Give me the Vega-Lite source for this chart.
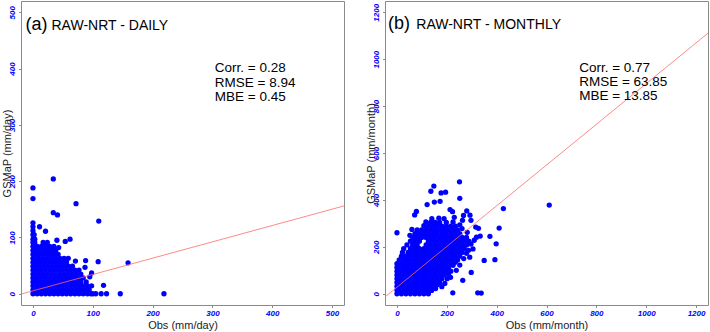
{
  "$schema": "https://vega.github.io/schema/vega-lite/v6.json",
  "padding": {"left": 0, "top": 0, "right": 0, "bottom": 0},
  "background": "white",
  "bounds": "flush",
  "spacing": 41,
  "config": {
    "view": {"stroke": "#8a8a8a", "strokeWidth": 1},
    "font": "Liberation Sans",
    "axis": {
      "grid": false,
      "domain": false,
      "ticks": true,
      "tickSize": 2.5,
      "tickColor": "#8a8a8a",
      "labelColor": "#0000FF",
      "labelFont": "Liberation Sans",
      "labelFontStyle": "italic",
      "labelFontWeight": "bold",
      "labelFontSize": 8,
      "labelPadding": 2,
      "labelFlush": false,
      "labelOverlap": false,
      "format": "d",
      "titleFont": "Liberation Sans",
      "titleFontWeight": "normal",
      "titleFontSize": 11,
      "titleColor": "#222222"
    },
    "axisX": {"titlePadding": 2},
    "axisY": {"labelAngle": 270, "labelAlign": "center", "labelBaseline": "bottom", "titlePadding": -4}
  },
  "datasets": {
    "daily": [
      {"x":0,"y":0},{"x":7,"y":0},{"x":14,"y":0},{"x":21,"y":0},{"x":28,"y":0},{"x":35,"y":0},{"x":42,"y":0},{"x":49,"y":0},{"x":56,"y":0},{"x":63,"y":0},{"x":70,"y":0},{"x":77,"y":0},{"x":84,"y":0},{"x":91,"y":0},{"x":97,"y":0},{"x":100,"y":0},{"x":105,"y":0},{"x":114,"y":0},{"x":123,"y":0},{"x":146,"y":0},{"x":219,"y":0},
      {"x":0,"y":7},{"x":3,"y":7},{"x":10,"y":7},{"x":17,"y":7},{"x":24,"y":7},{"x":31,"y":7},{"x":38,"y":7},{"x":45,"y":7},{"x":52,"y":7},{"x":59,"y":7},{"x":66,"y":7},{"x":73,"y":7},{"x":80,"y":7},{"x":87,"y":7},{"x":94,"y":7},
      {"x":0,"y":14},{"x":7,"y":14},{"x":14,"y":14},{"x":21,"y":14},{"x":28,"y":14},{"x":35,"y":14},{"x":42,"y":14},{"x":49,"y":14},{"x":56,"y":14},{"x":63,"y":14},{"x":70,"y":14},{"x":77,"y":14},{"x":84,"y":14},{"x":91,"y":14},{"x":98,"y":14},{"x":118,"y":15},
      {"x":0,"y":21},{"x":3,"y":21},{"x":10,"y":21},{"x":17,"y":21},{"x":24,"y":21},{"x":31,"y":21},{"x":38,"y":21},{"x":45,"y":21},{"x":52,"y":21},{"x":59,"y":21},{"x":66,"y":21},{"x":73,"y":21},{"x":80,"y":21},{"x":89,"y":21},
      {"x":0,"y":28},{"x":7,"y":28},{"x":14,"y":28},{"x":21,"y":28},{"x":28,"y":28},{"x":35,"y":28},{"x":42,"y":28},{"x":49,"y":28},{"x":56,"y":28},{"x":63,"y":28},{"x":70,"y":28},{"x":77,"y":28},{"x":84,"y":28},{"x":95,"y":30},
      {"x":0,"y":35},{"x":3,"y":35},{"x":10,"y":35},{"x":17,"y":35},{"x":24,"y":35},{"x":31,"y":35},{"x":38,"y":35},{"x":45,"y":35},{"x":52,"y":35},{"x":59,"y":35},{"x":66,"y":35},{"x":73,"y":35},{"x":80,"y":35},{"x":98,"y":37},
      {"x":0,"y":42},{"x":7,"y":42},{"x":14,"y":42},{"x":21,"y":42},{"x":28,"y":42},{"x":35,"y":42},{"x":42,"y":42},{"x":49,"y":42},{"x":56,"y":42},{"x":63,"y":42},{"x":70,"y":42},{"x":77,"y":42},
      {"x":0,"y":49},{"x":3,"y":49},{"x":10,"y":49},{"x":17,"y":49},{"x":24,"y":49},{"x":31,"y":49},{"x":38,"y":49},{"x":45,"y":49},{"x":52,"y":49},{"x":59,"y":49},{"x":66,"y":49},{"x":87,"y":47},
      {"x":0,"y":56},{"x":7,"y":56},{"x":14,"y":56},{"x":21,"y":56},{"x":28,"y":56},{"x":35,"y":56},{"x":42,"y":56},{"x":49,"y":56},{"x":56,"y":56},{"x":109,"y":57},{"x":71,"y":58},{"x":88,"y":59},
      {"x":0,"y":63},{"x":3,"y":63},{"x":10,"y":63},{"x":17,"y":63},{"x":24,"y":63},{"x":31,"y":63},{"x":38,"y":63},{"x":45,"y":63},{"x":52,"y":63},{"x":59,"y":63},
      {"x":0,"y":70},{"x":7,"y":70},{"x":14,"y":70},{"x":21,"y":70},{"x":28,"y":70},{"x":35,"y":70},{"x":42,"y":70},
      {"x":0,"y":77},{"x":3,"y":77},{"x":10,"y":77},{"x":17,"y":77},{"x":24,"y":77},{"x":31,"y":77},{"x":38,"y":77},
      {"x":0,"y":84},{"x":7,"y":84},{"x":14,"y":84},{"x":21,"y":84},{"x":28,"y":84},{"x":35,"y":84},{"x":43,"y":82},
      {"x":0,"y":91},{"x":3,"y":91},{"x":17,"y":91},{"x":24,"y":91},{"x":40,"y":95},{"x":54,"y":93},
      {"x":0,"y":97},{"x":3,"y":97},{"x":62,"y":97},
      {"x":0,"y":105},{"x":2,"y":105},{"x":0,"y":112},{"x":21,"y":111},{"x":0,"y":119},{"x":11,"y":119},{"x":0,"y":126},
      {"x":0,"y":169},{"x":0,"y":188},{"x":34,"y":204},{"x":72,"y":160},{"x":34,"y":144},{"x":41,"y":140},{"x":110,"y":129},{"x":159,"y":55}
    ],
    "monthly": [
      {"x":0,"y":0},{"x":18,"y":0},{"x":36,"y":0},{"x":54,"y":0},{"x":72,"y":0},{"x":90,"y":0},{"x":108,"y":0},{"x":126,"y":0},{"x":139,"y":14},
      {"x":0,"y":16},{"x":9,"y":16},{"x":27,"y":16},{"x":45,"y":16},{"x":63,"y":16},{"x":81,"y":16},{"x":99,"y":16},{"x":117,"y":16},{"x":135,"y":16},{"x":155,"y":22},
      {"x":0,"y":32},{"x":18,"y":32},{"x":36,"y":32},{"x":54,"y":32},{"x":72,"y":32},{"x":90,"y":32},{"x":108,"y":32},{"x":126,"y":32},{"x":144,"y":32},{"x":162,"y":38},{"x":180,"y":30},
      {"x":0,"y":48},{"x":9,"y":48},{"x":27,"y":48},{"x":45,"y":48},{"x":63,"y":48},{"x":81,"y":48},{"x":99,"y":48},{"x":117,"y":48},{"x":135,"y":48},{"x":153,"y":48},{"x":171,"y":48},{"x":192,"y":44},
      {"x":0,"y":64},{"x":18,"y":64},{"x":36,"y":64},{"x":54,"y":64},{"x":72,"y":64},{"x":90,"y":64},{"x":108,"y":64},{"x":126,"y":64},{"x":144,"y":64},{"x":162,"y":64},{"x":180,"y":64},{"x":201,"y":64},{"x":215,"y":70},
      {"x":0,"y":80},{"x":9,"y":80},{"x":27,"y":80},{"x":45,"y":80},{"x":63,"y":80},{"x":81,"y":80},{"x":99,"y":80},{"x":117,"y":80},{"x":135,"y":80},{"x":153,"y":80},{"x":171,"y":80},{"x":189,"y":80},{"x":207,"y":84},
      {"x":0,"y":96},{"x":18,"y":96},{"x":36,"y":96},{"x":54,"y":96},{"x":72,"y":96},{"x":90,"y":96},{"x":108,"y":96},{"x":126,"y":96},{"x":144,"y":96},{"x":162,"y":96},{"x":180,"y":96},{"x":198,"y":96},{"x":216,"y":96},{"x":238,"y":100},
      {"x":0,"y":112},{"x":9,"y":112},{"x":27,"y":112},{"x":45,"y":112},{"x":63,"y":112},{"x":81,"y":112},{"x":99,"y":112},{"x":117,"y":112},{"x":135,"y":112},{"x":153,"y":112},{"x":171,"y":112},{"x":189,"y":112},{"x":207,"y":112},{"x":225,"y":121},
      {"x":0,"y":128},{"x":18,"y":128},{"x":36,"y":128},{"x":54,"y":128},{"x":72,"y":128},{"x":90,"y":128},{"x":108,"y":128},{"x":126,"y":128},{"x":144,"y":128},{"x":162,"y":128},{"x":180,"y":128},{"x":198,"y":128},{"x":216,"y":128},{"x":234,"y":134},{"x":252,"y":122},
      {"x":9,"y":144},{"x":27,"y":144},{"x":45,"y":144},{"x":63,"y":144},{"x":81,"y":144},{"x":99,"y":144},{"x":117,"y":144},{"x":135,"y":144},{"x":153,"y":144},{"x":171,"y":144},{"x":189,"y":144},{"x":207,"y":144},{"x":225,"y":144},{"x":243,"y":144},{"x":268,"y":150},
      {"x":18,"y":160},{"x":36,"y":160},{"x":54,"y":160},{"x":72,"y":160},{"x":90,"y":160},{"x":108,"y":160},{"x":126,"y":160},{"x":144,"y":160},{"x":162,"y":160},{"x":180,"y":160},{"x":198,"y":160},{"x":216,"y":160},{"x":234,"y":160},{"x":252,"y":160},{"x":292,"y":156},
      {"x":22,"y":176},{"x":45,"y":176},{"x":63,"y":176},{"x":81,"y":176},{"x":99,"y":176},{"x":117,"y":176},{"x":135,"y":176},{"x":153,"y":176},{"x":171,"y":176},{"x":189,"y":176},{"x":207,"y":176},{"x":225,"y":176},{"x":243,"y":176},{"x":261,"y":176},{"x":279,"y":172},
      {"x":27,"y":192},{"x":54,"y":192},{"x":72,"y":192},{"x":90,"y":192},{"x":108,"y":192},{"x":126,"y":192},{"x":144,"y":192},{"x":162,"y":192},{"x":180,"y":192},{"x":198,"y":192},{"x":216,"y":192},{"x":234,"y":192},{"x":252,"y":192},{"x":270,"y":192},{"x":305,"y":191},
      {"x":40,"y":208},{"x":63,"y":208},{"x":81,"y":208},{"x":117,"y":208},{"x":135,"y":208},{"x":153,"y":208},{"x":171,"y":208},{"x":189,"y":208},{"x":207,"y":208},{"x":225,"y":208},{"x":243,"y":208},{"x":261,"y":208},{"x":279,"y":208},{"x":297,"y":212},
      {"x":54,"y":224},{"x":72,"y":224},{"x":90,"y":224},{"x":126,"y":224},{"x":144,"y":224},{"x":162,"y":224},{"x":180,"y":224},{"x":198,"y":224},{"x":216,"y":224},{"x":234,"y":224},{"x":252,"y":224},{"x":270,"y":224},{"x":288,"y":224},{"x":310,"y":228},
      {"x":63,"y":240},{"x":81,"y":240},{"x":99,"y":240},{"x":117,"y":240},{"x":135,"y":240},{"x":153,"y":240},{"x":171,"y":240},{"x":189,"y":240},{"x":207,"y":240},{"x":225,"y":240},{"x":243,"y":240},{"x":261,"y":240},{"x":279,"y":240},{"x":319,"y":241},
      {"x":52,"y":249},{"x":72,"y":256},{"x":90,"y":256},{"x":108,"y":256},{"x":126,"y":256},{"x":144,"y":256},{"x":162,"y":256},{"x":180,"y":256},{"x":198,"y":256},{"x":216,"y":256},{"x":234,"y":256},{"x":252,"y":256},{"x":282,"y":262},
      {"x":60,"y":274},{"x":81,"y":272},{"x":99,"y":272},{"x":117,"y":272},{"x":135,"y":272},{"x":153,"y":272},{"x":171,"y":272},{"x":189,"y":272},{"x":207,"y":272},{"x":225,"y":272},{"x":243,"y":272},{"x":261,"y":278},
      {"x":108,"y":290},{"x":126,"y":288},{"x":144,"y":288},{"x":162,"y":288},{"x":180,"y":288},{"x":198,"y":288},{"x":216,"y":288},{"x":234,"y":288},{"x":252,"y":294},
      {"x":116,"y":306},{"x":135,"y":304},{"x":153,"y":304},{"x":171,"y":304},{"x":198,"y":304},{"x":225,"y":306},
      {"x":140,"y":320},{"x":168,"y":322},{"x":189,"y":320},{"x":230,"y":326},
      {"x":0,"y":260},{"x":78,"y":351},{"x":71,"y":336},{"x":213,"y":359},{"x":223,"y":350},{"x":280,"y":353},{"x":267,"y":334},{"x":293,"y":335},{"x":263,"y":313},{"x":297,"y":313},
      {"x":121,"y":380},{"x":150,"y":391},{"x":173,"y":394},{"x":136,"y":437},{"x":148,"y":459},{"x":177,"y":430},{"x":195,"y":433},{"x":252,"y":407},{"x":251,"y":477},
      {"x":427,"y":363},{"x":611,"y":378},{"x":410,"y":280},{"x":398,"y":213},{"x":393,"y":145},{"x":350,"y":142},{"x":373,"y":245},{"x":334,"y":246},{"x":316,"y":284},{"x":327,"y":279},
      {"x":298,"y":91},{"x":264,"y":57},{"x":224,"y":4},{"x":324,"y":4},{"x":338,"y":3},{"x":287,"y":185}
    ]
  },
  "hconcat": [
    {
      "width": 323,
      "height": 304,
      "layer": [
        {
          "data": {"name": "daily"},
          "mark": {"type": "circle", "size": 28, "opacity": 1, "color": "#0000FF"},
          "encoding": {
            "x": {"field": "x", "type": "quantitative", "scale": {"domain": [-20, 520], "nice": false, "zero": false}, "axis": {"values": [0, 100, 200, 300, 400, 500], "title": "Obs (mm/day)"}},
            "y": {"field": "y", "type": "quantitative", "scale": {"domain": [-20, 520], "nice": false, "zero": false}, "axis": {"values": [0, 100, 200, 300, 400, 500], "title": "GSMaP (mm/day)"}}
          }
        },
        {
          "data": {"values": [{"x": -20, "y": -0.6, "x2": 520, "y2": 156}]},
          "mark": {"type": "rule", "color": "#ff6b6b", "strokeWidth": 0.8, "clip": true},
          "encoding": {
            "x": {"field": "x", "type": "quantitative", "title": "Obs (mm/day)"},
            "y": {"field": "y", "type": "quantitative", "title": "GSMaP (mm/day)"},
            "x2": {"field": "x2"},
            "y2": {"field": "y2"}
          }
        },
        {
          "data": {"values": [{"x": -12.3, "y": 469, "t": "(a)"}]},
          "mark": {"type": "text", "align": "left", "baseline": "alphabetic", "fontSize": 18, "color": "#000000"},
          "encoding": {
            "x": {"field": "x", "type": "quantitative", "title": "Obs (mm/day)"},
            "y": {"field": "y", "type": "quantitative", "title": "GSMaP (mm/day)"},
            "text": {"field": "t"}
          }
        },
        {
          "data": {"values": [{"x": 31, "y": 469, "t": "RAW-NRT - DAILY"}]},
          "mark": {"type": "text", "align": "left", "baseline": "alphabetic", "fontSize": 14, "color": "#000000"},
          "encoding": {
            "x": {"field": "x", "type": "quantitative", "title": "Obs (mm/day)"},
            "y": {"field": "y", "type": "quantitative", "title": "GSMaP (mm/day)"},
            "text": {"field": "t"}
          }
        },
        {
          "data": {"values": [{"x": 304, "y": 393, "t": "Corr. = 0.28"}, {"x": 304, "y": 368, "t": "RMSE = 8.94"}, {"x": 304, "y": 343, "t": "MBE = 0.45"}]},
          "mark": {"type": "text", "align": "left", "baseline": "alphabetic", "fontSize": 13.5, "color": "#000000"},
          "encoding": {
            "x": {"field": "x", "type": "quantitative", "title": "Obs (mm/day)"},
            "y": {"field": "y", "type": "quantitative", "title": "GSMaP (mm/day)"},
            "text": {"field": "t"}
          }
        }
      ]
    },
    {
      "width": 323,
      "height": 304,
      "layer": [
        {
          "data": {"name": "monthly"},
          "mark": {"type": "circle", "size": 28, "opacity": 1, "color": "#0000FF"},
          "encoding": {
            "x": {"field": "x", "type": "quantitative", "scale": {"domain": [-48, 1248], "nice": false, "zero": false}, "axis": {"values": [0, 200, 400, 600, 800, 1000, 1200], "title": "Obs (mm/month)"}},
            "y": {"field": "y", "type": "quantitative", "scale": {"domain": [-48, 1248], "nice": false, "zero": false}, "axis": {"values": [0, 200, 400, 600, 800, 1000, 1200], "title": "GSMaP (mm/month)"}}
          }
        },
        {
          "data": {"values": [{"x": -48, "y": -13.7, "x2": 1248, "y2": 1111}]},
          "mark": {"type": "rule", "color": "#ff6b6b", "strokeWidth": 0.8, "clip": true},
          "encoding": {
            "x": {"field": "x", "type": "quantitative", "title": "Obs (mm/month)"},
            "y": {"field": "y", "type": "quantitative", "title": "GSMaP (mm/month)"},
            "x2": {"field": "x2"},
            "y2": {"field": "y2"}
          }
        },
        {
          "data": {"values": [{"x": -36, "y": 1127, "t": "(b)"}]},
          "mark": {"type": "text", "align": "left", "baseline": "alphabetic", "fontSize": 18, "color": "#000000"},
          "encoding": {
            "x": {"field": "x", "type": "quantitative", "title": "Obs (mm/month)"},
            "y": {"field": "y", "type": "quantitative", "title": "GSMaP (mm/month)"},
            "text": {"field": "t"}
          }
        },
        {
          "data": {"values": [{"x": 77.6, "y": 1127, "t": "RAW-NRT - MONTHLY"}]},
          "mark": {"type": "text", "align": "left", "baseline": "alphabetic", "fontSize": 14, "color": "#000000"},
          "encoding": {
            "x": {"field": "x", "type": "quantitative", "title": "Obs (mm/month)"},
            "y": {"field": "y", "type": "quantitative", "title": "GSMaP (mm/month)"},
            "text": {"field": "t"}
          }
        },
        {
          "data": {"values": [{"x": 731, "y": 945, "t": "Corr. = 0.77"}, {"x": 731, "y": 885, "t": "RMSE = 63.85"}, {"x": 731, "y": 825, "t": "MBE = 13.85"}]},
          "mark": {"type": "text", "align": "left", "baseline": "alphabetic", "fontSize": 13.5, "color": "#000000"},
          "encoding": {
            "x": {"field": "x", "type": "quantitative", "title": "Obs (mm/month)"},
            "y": {"field": "y", "type": "quantitative", "title": "GSMaP (mm/month)"},
            "text": {"field": "t"}
          }
        }
      ]
    }
  ]
}
